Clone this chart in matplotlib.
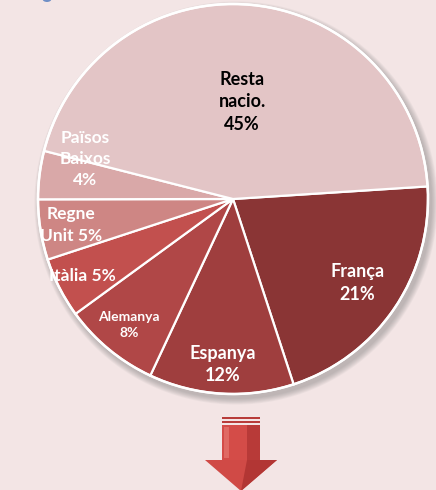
import matplotlib.pyplot as plt
from matplotlib.patches import Circle, Polygon, Rectangle, Ellipse
import numpy as np

# Dades: quota de visitants per país
paisos = ['França', 'Espanya', 'Alemanya', 'Itàlia', 'Regne Unit', 'Països Baixos', 'Resta nacio.']
quota = [21, 12, 8, 5, 5, 4, 45]
etiquetes = ['França\n21%', 'Espanya\n12%', 'Alemanya\n8%', 'Itàlia 5%',
             'Regne\nUnit 5%', 'Països\nBaixos\n4%', 'Resta\nnacio.\n45%']

colors = ['#8a3535', '#9f3e3e', '#b04747', '#c2504e', '#ce8684', '#d9a8a8', '#e3c5c6']
text_colors = ['white'] * 6 + ['black']
label_r = [0.77, 0.85, 0.84, 0.87, 0.84, 0.785, 0.50]
label_shift = [0, 0, 0, 0, 0, -8, 0]   # graus, per separar l'etiqueta petita
label_size = [13, 13, 10, 12.5, 12.5, 12.5, 13]

W, H = 436, 490
cx, cy, R = 233, H - 199, 195
start = 3.7
bg = '#f3e5e5'

fig = plt.figure(figsize=(W / 100, H / 100), dpi=100, facecolor=bg)
ax = fig.add_axes([0, 0, 1, 1])
ax.set_facecolor(bg)

# ombra suau sota el pastís
for i in range(8):
    ax.add_patch(Circle((cx + 3, cy - 4), R + 1 + i * 0.8, color='#707070',
                        alpha=0.06, lw=0, zorder=0))

wedges, _ = ax.pie(quota, colors=colors, startangle=start, counterclock=False,
                   center=(cx, cy), radius=R,
                   wedgeprops=dict(edgecolor='white', linewidth=1.6))

ax.add_patch(Circle((cx, cy), R, fill=False, edgecolor='white', lw=1.8, zorder=3))

total = sum(quota)
ang = start
for q, lab, tc, r, sh, fs in zip(quota, etiquetes, text_colors, label_r,
                                 label_shift, label_size):
    span = 360 * q / total
    mid = np.deg2rad(ang - span / 2 + sh)
    ang -= span
    ax.text(cx + r * R * np.cos(mid), cy + r * R * np.sin(mid), lab,
            ha='center', va='center', color=tc, fontsize=fs, fontweight='bold',
            family='Lato', linespacing=1.4, zorder=4)

# fletxa cap avall
ax_c = 241
for y0 in (H - 419, H - 423):
    ax.add_patch(Rectangle((ax_c - 19, y0), 38, 2.2, color='#b83c3a', lw=0, zorder=2))
ax.add_patch(Rectangle((ax_c - 19, H - 460), 38, 35, color='#d44c48', lw=0, zorder=2))
ax.add_patch(Rectangle((ax_c + 6, H - 460), 13, 35, color='#b83a38', lw=0, zorder=2))
ax.add_patch(Rectangle((ax_c - 17, H - 458), 5, 31, color='#e06a64', lw=0, zorder=2))
ax.add_patch(Polygon([(ax_c - 36, H - 460), (ax_c + 36, H - 460), (ax_c, H - 491)],
                     closed=True, color='#d04a46', lw=0, zorder=2))
ax.add_patch(Polygon([(ax_c + 6, H - 460), (ax_c + 36, H - 460), (ax_c, H - 491)],
                     closed=True, color='#b23634', lw=0, zorder=2))

# detall blau a la cantonada
ax.add_patch(Ellipse((47, H + 1), 9, 6, color='#6f8fc6', lw=0, zorder=2))

ax.set_xlim(0, W)
ax.set_ylim(0, H)
ax.set_aspect('equal')
ax.axis('off')

fig.savefig('out.png', dpi=100, facecolor=bg)
